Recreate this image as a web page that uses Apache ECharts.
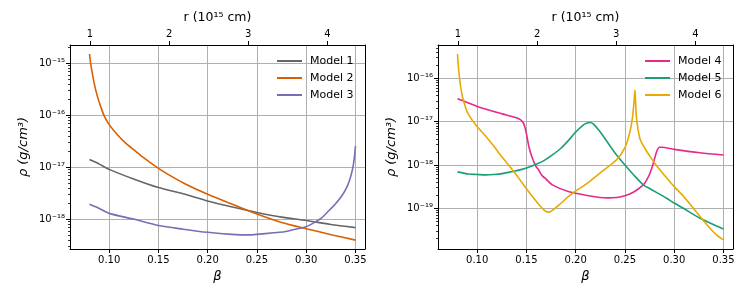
<!DOCTYPE html>
<html><head><meta charset="utf-8">
<script src="https://cdn.jsdelivr.net/npm/echarts@6/dist/echarts.min.js"></script>
<style>html,body{margin:0;padding:0;background:#fff}#c{width:747px;height:299px}</style>
</head><body><div id="c"></div>
<script>
// ---- data ----
const beta1 = [0.080,0.090,0.100,0.1254,0.150,0.175,0.200,0.225,0.250,0.275,0.300,0.325,0.350];
const rho1  = [1.41e-17,1.15e-17,9.12e-18,5.89e-18,4.07e-18,3.09e-18,2.25e-18,1.72e-18,1.35e-18,1.10e-18,9.5e-19,7.94e-19,6.92e-19];

const beta2 = [0.080,0.0814,0.0847,0.0881,0.0915,0.0949,0.100,0.1085,0.117,0.1254,0.1339,0.1424,0.150,0.1593,0.1763,0.200,0.225,0.250,0.275,0.300,0.3264,0.350];
const rho2  = [1.51e-15,9.3e-16,4.17e-16,2.29e-16,1.45e-16,9.77e-17,6.61e-17,4.17e-17,2.88e-17,2.14e-17,1.58e-17,1.20e-17,9.55e-18,7.41e-18,4.90e-18,3.02e-18,1.95e-18,1.26e-18,8.71e-19,6.61e-19,5.01e-19,3.98e-19];

const beta3 = [0.080,0.090,0.100,0.1254,0.150,0.175,0.200,0.2246,0.2415,0.250,0.267,0.2779,0.289,0.300,0.3085,0.3153,0.3221,0.3289,0.3357,0.3408,0.3442,0.3469,0.3486,0.350];
const rho3  = [1.95e-18,1.62e-18,1.30e-18,1.00e-18,7.59e-19,6.46e-19,5.62e-19,5.13e-19,5.01e-19,5.13e-19,5.50e-19,5.75e-19,6.46e-19,7.2e-19,8.71e-19,1.05e-18,1.41e-18,1.91e-18,2.75e-18,3.98e-18,5.75e-18,8.91e-18,1.38e-17,2.57e-17];

const beta4 = [0.080,0.090,0.100,0.1254,0.1381,0.1442,0.1466,0.1483,0.150,0.1525,0.1553,0.1593,0.1619,0.166,0.1686,0.1763,0.1932,0.2102,0.2246,0.233,0.2415,0.250,0.2585,0.2686,0.272,0.2754,0.2788,0.2822,0.2849,0.2873,0.300,0.3263,0.350];
const rho4  = [3.39e-17,2.75e-17,2.24e-17,1.51e-17,1.26e-17,1.10e-17,9.55e-18,7.59e-18,5.25e-18,2.63e-18,1.58e-18,9.55e-19,7.94e-19,5.62e-19,5.01e-19,3.47e-19,2.40e-19,2.00e-19,1.78e-19,1.74e-19,1.78e-19,1.95e-19,2.34e-19,3.47e-19,4.47e-19,6.46e-19,1.10e-18,2.04e-18,2.57e-18,2.57e-18,2.29e-18,1.91e-18,1.70e-18];

const beta5 = [0.080,0.0915,0.100,0.1085,0.117,0.1254,0.1339,0.1424,0.150,0.1593,0.1678,0.1763,0.1847,0.1932,0.200,0.2076,0.211,0.2144,0.2178,0.2246,0.233,0.2415,0.250,0.2585,0.2686,0.2754,0.2924,0.300,0.3093,0.3263,0.350];
const rho5  = [6.92e-19,6.17e-19,6.03e-19,5.89e-19,6.03e-19,6.31e-19,6.92e-19,7.59e-19,8.51e-19,1.02e-18,1.26e-18,1.70e-18,2.40e-18,3.80e-18,5.75e-18,8.32e-18,9.12e-18,9.55e-18,8.91e-18,5.89e-18,3.16e-18,1.70e-18,1.00e-18,6.03e-19,3.47e-19,2.82e-19,1.70e-19,1.32e-19,1.00e-19,5.89e-20,3.31e-20];

const beta6 = [0.080,0.0807,0.0814,0.083,0.0847,0.0881,0.0915,0.100,0.1085,0.117,0.1254,0.1339,0.1424,0.150,0.1593,0.166,0.1695,0.1729,0.1763,0.1847,0.1932,0.200,0.2102,0.2246,0.2415,0.250,0.2551,0.2578,0.2595,0.2602,0.2608,0.2619,0.2653,0.2703,0.2754,0.2805,0.2924,0.300,0.3093,0.3195,0.3263,0.3347,0.3432,0.350];
const rho6  = [3.63e-16,2.09e-16,1.38e-16,6.92e-17,4.07e-17,2.14e-17,1.41e-17,7.59e-18,4.68e-18,2.69e-18,1.51e-18,8.71e-19,4.9e-19,2.82e-19,1.51e-19,1.00e-19,8.51e-20,8.13e-20,8.91e-20,1.29e-19,1.91e-19,2.51e-19,3.55e-19,6.46e-19,1.32e-18,2.51e-18,5.89e-18,1.32e-17,3.47e-17,5.37e-17,2.82e-17,1.12e-17,3.98e-18,2.40e-18,1.58e-18,1.07e-18,5.01e-19,3.16e-19,1.91e-19,1.00e-19,6.46e-20,3.80e-20,2.40e-20,1.86e-20];

const seriesNames = ['Model 1','Model 2','Model 3','Model 4','Model 5','Model 6'];
const betaTicks = [0.10,0.15,0.20,0.25,0.30,0.35];
const rTicks = [1,2,3,4];
const leftDecades = [1e-18,1e-17,1e-16,1e-15];
const rightDecades = [1e-19,1e-18,1e-17,1e-16];

// ---- layout / style ----
const colors = ['#666666','#d95f02','#7570b3','#e7298a','#1b9e77','#e6ab02'];
const FONT = 'DejaVu Sans';
const betaMin = 0.0602, betaMax = 0.3597, rPerBeta = 12.44;
const yl = [Math.pow(10,-18.571), Math.pow(10,-14.648)];
const yr = [Math.pow(10,-19.94), Math.pow(10,-15.231)];

function minorTicks(lo, hi){
  const out=[];
  for(let e=-21;e<=-14;e++) for(let k=2;k<=9;k++){ const v=k*Math.pow(10,e); if(v>=lo&&v<=hi) out.push(v); }
  return out;
}
const SUP={'0':'⁰','1':'¹','2':'²','3':'³','4':'⁴','5':'⁵','6':'⁶','7':'⁷','8':'⁸','9':'⁹','-':'⁻'};
function expLabel(v){ const e=Math.round(Math.log10(v)); return '10'+String(e).split('').map(c=>SUP[c]).join(''); }

const axLine = {show:true, onZero:false, lineStyle:{color:'#000', width:1}};
const grids = [{left:70, top:45, width:295, height:204},{left:438, top:45, width:295, height:204}];

const xAxis=[], yAxis=[];
[0,1].forEach(g=>{
  xAxis.push({gridIndex:g, type:'value', position:'bottom', min:betaMin, max:betaMax,
    axisLine:axLine,
    axisTick:{show:true, length:4, customValues:betaTicks, lineStyle:{color:'#000'}},
    axisLabel:{customValues:betaTicks, formatter:v=>v.toFixed(2), fontFamily:FONT, fontSize:10, color:'#000', margin:6},
    splitLine:{show:true, lineStyle:{color:'#b0b0b0', width:1}},
    name:'β', nameLocation:'middle', nameGap:20,
    nameTextStyle:{fontFamily:FONT, fontStyle:'italic', fontSize:13, color:'#000'}});
  xAxis.push({gridIndex:g, type:'value', position:'top', min:betaMin*rPerBeta, max:betaMax*rPerBeta,
    axisLine:axLine,
    axisTick:{show:true, length:4, customValues:rTicks, lineStyle:{color:'#000'}},
    axisLabel:{customValues:rTicks, formatter:v=>String(Math.round(v)), fontFamily:FONT, fontSize:10, color:'#000', margin:6},
    splitLine:{show:false},
    name:'r (10¹⁵ cm)', nameLocation:'middle', nameGap:18,
    nameTextStyle:{fontFamily:FONT, fontSize:12.5, color:'#000'}});
  const yr0 = g===0?yl:yr, dec = g===0?leftDecades:rightDecades;
  yAxis.push({gridIndex:g, type:'log', logBase:10, position:'left', min:yr0[0], max:yr0[1],
    axisLine:axLine,
    axisTick:{show:true, length:4, customValues:dec, lineStyle:{color:'#000'}},
    axisLabel:{customValues:dec, formatter:expLabel, fontFamily:FONT, fontSize:10, color:'#000', margin:5},
    splitLine:{show:true, lineStyle:{color:'#b0b0b0', width:1}},
    name:'ρ (g/cm³)', nameLocation:'middle', nameGap:40,
    nameTextStyle:{fontFamily:FONT, fontStyle:'italic', fontSize:13, color:'#000'}});
  yAxis.push({gridIndex:g, type:'log', logBase:10, position:'left', min:yr0[0], max:yr0[1],
    axisLine:{show:false, onZero:false},
    axisTick:{show:true, length:2, customValues:minorTicks(yr0[0],yr0[1]), lineStyle:{color:'#000', width:0.8}},
    axisLabel:{show:false}, splitLine:{show:false}});
  yAxis.push({gridIndex:g, type:'value', position:'right', min:0, max:1,
    axisLine:axLine, axisTick:{show:false}, axisLabel:{show:false}, splitLine:{show:false}});
});

const betas=[beta1,beta2,beta3,beta4,beta5,beta6], rhos=[rho1,rho2,rho3,rho4,rho5,rho6];
const series = seriesNames.map((n,i)=>{
  const g = i<3?0:1;
  return {name:n, type:'line', xAxisIndex:g*2, yAxisIndex:g*3,
    data: betas[i].map((b,j)=>[b, rhos[i][j]]),
    showSymbol:false, symbol:'none', smooth:0.25, clip:true,
    lineStyle:{color:colors[i], width:1.6}, itemStyle:{color:colors[i]}, z:3};
});

const legendBase = {orient:'vertical', icon:'rect', itemWidth:25, itemHeight:2, itemGap:3, padding:0,
  textStyle:{fontFamily:FONT, fontSize:11, color:'#000', lineHeight:14, padding:[0,0,0,3]}};
const chart = echarts.init(document.getElementById('c'), null, {renderer:'canvas'});
chart.setOption({
  animation:false, backgroundColor:'#fff',
  grid:grids, xAxis, yAxis, series,
  legend:[Object.assign({data:seriesNames.slice(0,3), left:277, top:54}, legendBase),
          Object.assign({data:seriesNames.slice(3), left:645, top:54}, legendBase)]
});
</script></body></html>
